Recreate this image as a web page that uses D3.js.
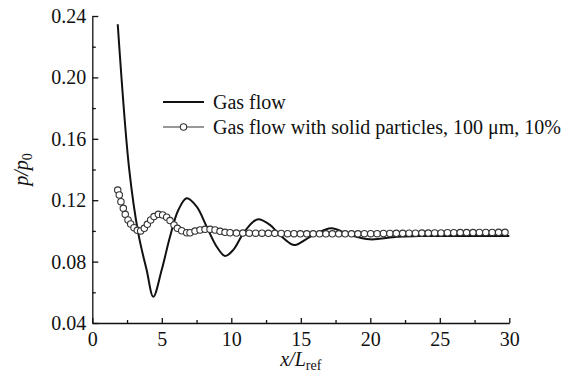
<!DOCTYPE html>
<html>
<head>
<meta charset="utf-8">
<script src="https://cdn.jsdelivr.net/npm/d3@7"></script>
<style>
  html, body { margin: 0; padding: 0; background: #fff; }
  svg { display: block; }
</style>
</head>
<body>
<svg id="chart" width="572" height="376"></svg>
<script>
// ---- data ----
const xTicks = [0, 5, 10, 15, 20, 25, 30];
const yTicks = [0.04, 0.08, 0.12, 0.16, 0.20, 0.24];
const seriesNames = ["Gas flow", "Gas flow with solid particles, 100 \u03bcm, 10%"];

// Gas flow (solid line)
const gasX = [1.83, 2.66, 3.31, 3.91, 4.39, 4.99, 5.59, 6.19, 6.79, 7.51, 8.23, 8.95, 9.55, 10.14, 10.86, 11.58, 11.94, 12.78, 13.5, 14.22, 14.58, 15.9, 17.2, 18.54, 19.98, 21.9, 23.5, 25.0, 27.5, 30.0];
const gasY = [0.2346, 0.1397, 0.0984, 0.0745, 0.0571, 0.0745, 0.0962, 0.1136, 0.1212, 0.1158, 0.1027, 0.0897, 0.0836, 0.0876, 0.0984, 0.1060, 0.1076, 0.1039, 0.0973, 0.0919, 0.0908, 0.0973, 0.1017, 0.0973, 0.0945, 0.0962, 0.0966, 0.0967, 0.0967, 0.0967];

// Gas flow with solid particles (open circles)
const partX = [1.83, 1.94, 2.06, 2.23, 2.37, 2.57, 2.76, 3.00, 3.24, 3.48, 3.74, 3.96, 4.20, 4.44, 4.75, 5.06, 5.35, 5.59, 5.88, 6.12, 6.43, 6.79, 7.03, 7.39, 7.75, 8.11, 8.47, 8.83, 9.19, 9.55, 9.91,
  10.37, 10.83, 11.29, 11.75, 12.21, 12.67, 13.13, 13.59, 14.05, 14.51, 14.97, 15.43, 15.89, 16.35, 16.81, 17.27, 17.73, 18.19, 18.65, 19.11, 19.57, 20.03, 20.49, 20.95, 21.41, 21.87, 22.33, 22.79, 23.25, 23.71, 24.17, 24.63, 25.09, 25.55, 26.01, 26.47, 26.93, 27.39, 27.85, 28.31, 28.77, 29.23, 29.69];
const partY = [0.1266, 0.1234, 0.1190, 0.1147, 0.1108, 0.1071, 0.1045, 0.1021, 0.1004, 0.1000, 0.1017, 0.1043, 0.1071, 0.1093, 0.1108, 0.1104, 0.1089, 0.1067, 0.1039, 0.1017, 0.1001, 0.0988, 0.0988, 0.0999, 0.1006, 0.1010, 0.1010, 0.1006, 0.0997, 0.0991, 0.0988,
  0.0986, 0.0986, 0.0985, 0.0985, 0.0985, 0.0984, 0.0984, 0.0983, 0.0982, 0.0982, 0.0981, 0.0981, 0.0981, 0.0981, 0.0981, 0.0981, 0.0981, 0.0981, 0.0981, 0.0981, 0.0982, 0.0982, 0.0982, 0.0983, 0.0983, 0.0984, 0.0984, 0.0985, 0.0985, 0.0986, 0.0986, 0.0987, 0.0987, 0.0988, 0.0988, 0.0989, 0.0989, 0.0989, 0.0990, 0.0990, 0.0990, 0.0991, 0.0991];

// ---- chart ----
const FONT = '"Liberation Serif", "Times New Roman", serif';
const svg = d3.select("#chart");
const x = d3.scaleLinear().domain([0, 30]).range([92.3, 509.3]);
const y = d3.scaleLinear().domain([0.04, 0.24]).range([323, 16]);

const minorX = [2.5, 7.5, 12.5, 17.5, 22.5, 27.5];
const minorY = [0.06, 0.10, 0.14, 0.18, 0.22];

// gas line
const gasData = gasX.map((d, i) => [d, gasY[i]]);
svg.append("path")
  .datum(gasData)
  .attr("fill", "none")
  .attr("stroke", "#111")
  .attr("stroke-width", 2)
  .attr("stroke-linejoin", "round")
  .attr("d", d3.line().x(d => x(d[0])).y(d => y(d[1])).curve(d3.curveCatmullRom.alpha(0.5)));

// particle circles
const partData = partX.map((d, i) => [d, partY[i]]);
svg.append("g").selectAll("circle")
  .data(partData)
  .join("circle")
  .attr("cx", d => x(d[0]))
  .attr("cy", d => y(d[1]))
  .attr("r", 3.2)
  .attr("fill", "#fff")
  .attr("stroke", "#333")
  .attr("stroke-width", 1.1);

// axes
const fontSize = 20;
svg.append("g").attr("transform", `translate(0,${y(0.04)})`)
  .call(d3.axisBottom(x).tickValues(xTicks).tickSize(-5).tickSizeOuter(0).tickPadding(9).tickFormat(d3.format("d")));
const xMinor = svg.append("g").attr("transform", `translate(0,${y(0.04)})`)
  .call(d3.axisBottom(x).tickValues(minorX).tickSize(-3).tickSizeOuter(0).tickFormat(""));
xMinor.select(".domain").remove();

svg.append("g").attr("transform", `translate(${x(0)},0)`)
  .call(d3.axisLeft(y).tickValues(yTicks).tickSize(-6).tickSizeOuter(0).tickPadding(6).tickFormat(d3.format(".2f")));
const yMinor = svg.append("g").attr("transform", `translate(${x(0)},0)`)
  .call(d3.axisLeft(y).tickValues(minorY).tickSize(-3.5).tickSizeOuter(0).tickFormat(""));
yMinor.select(".domain").remove();

svg.selectAll(".domain, .tick line").attr("stroke", "#111").attr("stroke-width", 1.3);
svg.selectAll(".tick text")
  .style("font-family", FONT)
  .style("font-size", fontSize + "px")
  .attr("fill", "#111");

// axis titles
const xt = svg.append("text")
  .attr("x", (x(0) + x(30)) / 2)
  .attr("y", 366)
  .attr("text-anchor", "middle")
  .attr("fill", "#111")
  .style("font-family", FONT)
  .style("font-size", fontSize + "px");
xt.append("tspan").attr("font-style", "italic").text("x/L");
xt.append("tspan").style("font-size", "14px").attr("dy", 4).text("ref");

const yt = svg.append("text")
  .attr("transform", `translate(28,${(y(0.04) + y(0.24)) / 2}) rotate(-90)`)
  .attr("text-anchor", "middle")
  .attr("fill", "#111")
  .style("font-family", FONT)
  .style("font-size", fontSize + "px");
yt.append("tspan").attr("font-style", "italic").text("p/p");
yt.append("tspan").style("font-size", "14px").attr("dy", 4).text("0");

// legend
const legX1 = 163, legX2 = 204, legTextX = 213;
const rows = [102, 127];
const leg = svg.append("g");
leg.append("line").attr("x1", legX1).attr("x2", legX2).attr("y1", rows[0]).attr("y2", rows[0])
  .attr("stroke", "#111").attr("stroke-width", 2);
leg.append("line").attr("x1", legX1).attr("x2", legX2).attr("y1", rows[1]).attr("y2", rows[1])
  .attr("stroke", "#333").attr("stroke-width", 1.1);
leg.append("circle").attr("cx", (legX1 + legX2) / 2).attr("cy", rows[1]).attr("r", 3.2)
  .attr("fill", "#fff").attr("stroke", "#333").attr("stroke-width", 1.1);
leg.selectAll("text.lab").data(seriesNames).join("text")
  .attr("class", "lab")
  .attr("x", legTextX)
  .attr("y", (d, i) => rows[i] + 7)
  .attr("fill", "#111")
  .style("font-family", FONT)
  .style("font-size", fontSize + "px")
  .text(d => d);
</script>
</body>
</html>
